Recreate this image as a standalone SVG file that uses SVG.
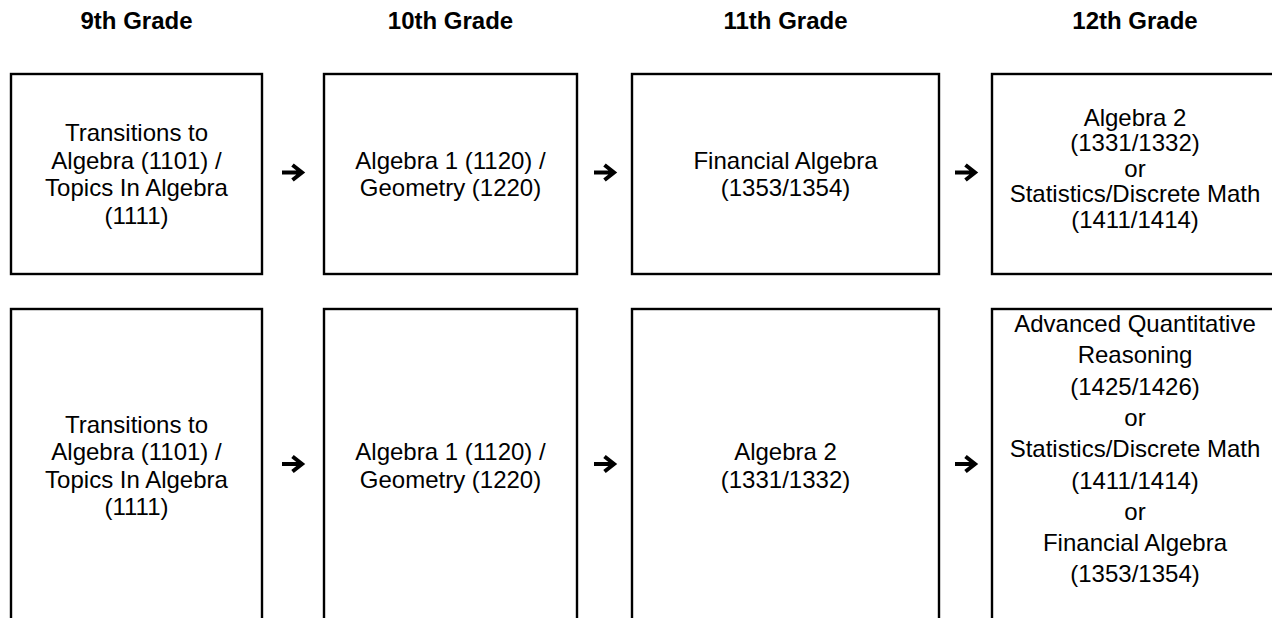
<svg xmlns="http://www.w3.org/2000/svg" width="1272" height="618" viewBox="0 0 1272 618">
<style>
.hdr{font-family:"Liberation Sans",Arial,sans-serif;font-size:24px;font-weight:bold;fill:#000;text-anchor:middle}
.box{fill:#fff;stroke:#000;stroke-width:2.4}
.lbl{font-family:"Liberation Sans",Arial,sans-serif;font-size:24px;fill:#000;text-anchor:middle}
.arr{fill:none;stroke:#000;stroke-width:4;stroke-linejoin:miter}
</style>
<defs>
<path id="arrow" d="M-10.5,0 H9.5 M0,-7.5 L9.5,0 L0,7.5"/>
</defs>
<rect width="1272" height="618" fill="#fff"/>
<g id="headers">
<text class="hdr" x="136.5" y="29">9th Grade</text>
<text class="hdr" x="450.5" y="29">10th Grade</text>
<text class="hdr" x="785.5" y="29">11th Grade</text>
<text class="hdr" x="1135" y="29">12th Grade</text>
</g>
<g id="r1c1"><rect class="box" x="11" y="74" width="251" height="200"/>
<text class="lbl" x="136.5" y="141"><tspan x="136.5">Transitions to</tspan><tspan x="136.5" dy="27.6">Algebra (1101) /</tspan><tspan x="136.5" dy="27.6">Topics In Algebra</tspan><tspan x="136.5" dy="27.6">(1111)</tspan></text></g>
<g id="r1c2"><rect class="box" x="324" y="74" width="253" height="200"/>
<text class="lbl" x="450.5" y="168.6"><tspan x="450.5">Algebra 1 (1120) /</tspan><tspan x="450.5" dy="27.6">Geometry (1220)</tspan></text></g>
<g id="r1c3"><rect class="box" x="632" y="74" width="307" height="200"/>
<text class="lbl" x="785.5" y="168.6"><tspan x="785.5">Financial Algebra</tspan><tspan x="785.5" dy="27.6">(1353/1354)</tspan></text></g>
<g id="r1c4"><rect class="box" x="992" y="74" width="290" height="200"/>
<text class="lbl" x="1135" y="125.5"><tspan x="1135">Algebra 2</tspan><tspan x="1135" dy="25.6">(1331/1332)</tspan><tspan x="1135" dy="25.6">or</tspan><tspan x="1135" dy="25.6">Statistics/Discrete Math</tspan><tspan x="1135" dy="25.6">(1411/1414)</tspan></text></g>
<g id="r2c1"><rect class="box" x="11" y="309" width="251" height="320"/>
<text class="lbl" x="136.5" y="432.6"><tspan x="136.5">Transitions to</tspan><tspan x="136.5" dy="27.6">Algebra (1101) /</tspan><tspan x="136.5" dy="27.6">Topics In Algebra</tspan><tspan x="136.5" dy="27.6">(1111)</tspan></text></g>
<g id="r2c2"><rect class="box" x="324" y="309" width="253" height="320"/>
<text class="lbl" x="450.5" y="460.2"><tspan x="450.5">Algebra 1 (1120) /</tspan><tspan x="450.5" dy="27.6">Geometry (1220)</tspan></text></g>
<g id="r2c3"><rect class="box" x="632" y="309" width="307" height="320"/>
<text class="lbl" x="785.5" y="460.2"><tspan x="785.5">Algebra 2</tspan><tspan x="785.5" dy="27.6">(1331/1332)</tspan></text></g>
<g id="r2c4"><rect class="box" x="992" y="309" width="290" height="320"/>
<text class="lbl" x="1135" y="332"><tspan x="1135">Advanced Quantitative</tspan><tspan x="1135" dy="31.3">Reasoning</tspan><tspan x="1135" dy="31.3">(1425/1426)</tspan><tspan x="1135" dy="31.3">or</tspan><tspan x="1135" dy="31.3">Statistics/Discrete Math</tspan><tspan x="1135" dy="31.3">(1411/1414)</tspan><tspan x="1135" dy="31.3">or</tspan><tspan x="1135" dy="31.3">Financial Algebra</tspan><tspan x="1135" dy="31.3">(1353/1354)</tspan></text></g>
<g id="connectors">
<use href="#arrow" class="arr" x="292.5" y="172.5"/>
<use href="#arrow" class="arr" x="604.5" y="172.5"/>
<use href="#arrow" class="arr" x="965.5" y="172.5"/>
<use href="#arrow" class="arr" x="292.5" y="464"/>
<use href="#arrow" class="arr" x="604.5" y="464"/>
<use href="#arrow" class="arr" x="965.5" y="464"/>
</g>
</svg>
